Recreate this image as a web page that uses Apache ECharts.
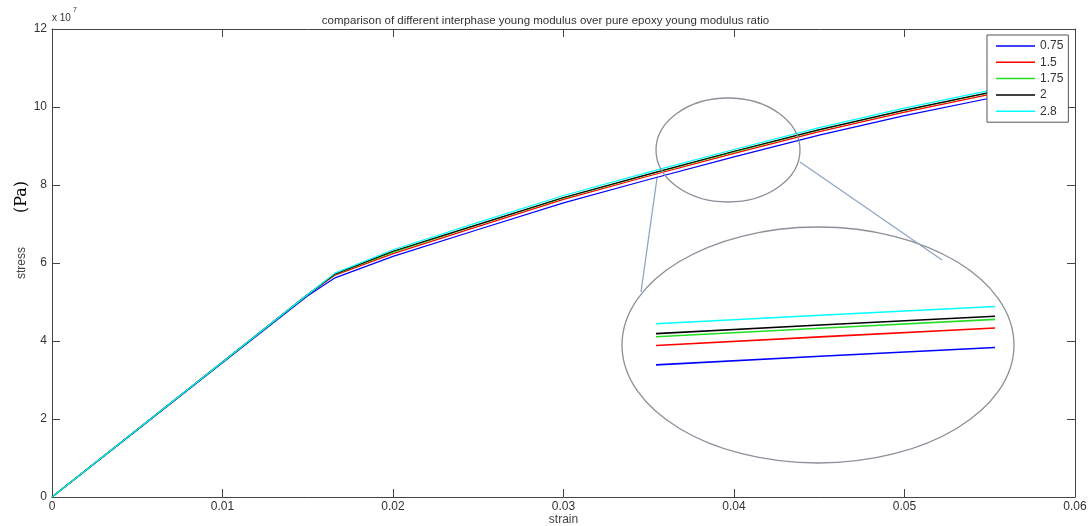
<!DOCTYPE html>
<html>
<head>
<meta charset="utf-8">
<script src="https://cdn.jsdelivr.net/npm/echarts@6/dist/echarts.min.js"></script>
<style>
  html, body { margin: 0; padding: 0; background: #fff; }
  #chart { width: 1091px; height: 526px; }
</style>
</head>
<body>
<div id="chart"></div>
<script>
// ---- data (stress in units of 1e7 Pa) ----
const strain = [0, 0.005, 0.01, 0.015, 0.0166, 0.02, 0.025, 0.03, 0.035, 0.04, 0.045, 0.05, 0.0555];
const ratio075 = [0, 1.72, 3.44, 5.16, 5.62, 6.17, 6.86, 7.54, 8.14, 8.72, 9.28, 9.78, 10.27];
const ratio150 = [0, 1.73, 3.46, 5.19, 5.69, 6.24, 6.94, 7.63, 8.23, 8.81, 9.37, 9.87, 10.37];
const ratio175 = [0, 1.73, 3.46, 5.19, 5.71, 6.28, 6.98, 7.67, 8.27, 8.85, 9.41, 9.91, 10.41];
const ratio200 = [0, 1.73, 3.46, 5.19, 5.72, 6.30, 6.99, 7.68, 8.28, 8.865, 9.42, 9.92, 10.42];
const ratio280 = [0, 1.73, 3.46, 5.19, 5.74, 6.34, 7.04, 7.73, 8.33, 8.91, 9.47, 9.97, 10.47];
const seriesNames = ['0.75', '1.5', '1.75', '2', '2.8'];
const xTickLabels = ['0', '0.01', '0.02', '0.03', '0.04', '0.05', '0.06'];
const yTickLabels = ['0', '2', '4', '6', '8', '10', '12'];
const titleText = 'comparison of different interphase young modulus over pure epoxy young modulus ratio';
const xName = 'strain';
const yName = 'stress';
const unitText = '(Pa)';
const expBase = 'x 10';
const expPow = '7';
// zoomed inset window (around strain 0.04)
const insetX = [0.03965, 0.04035];
const insetY = [8.424, 9.072];

const seriesValues = [ratio075, ratio150, ratio175, ratio200, ratio280];
const colors = ['#0000ff', '#ff0000', '#22dd22', '#000000', '#00ffff'];
const font = 'Liberation Sans, Arial, sans-serif';

const chart = echarts.init(document.getElementById('chart'), null, { renderer: 'canvas' });

const mainSeries = seriesValues.map((vals, k) => ({
  name: seriesNames[k], type: 'line', xAxisIndex: 0, yAxisIndex: 0,
  data: strain.map((x, i) => [x, vals[i]]),
  showSymbol: false, symbol: 'none',
  lineStyle: { color: colors[k], width: 1.2 }, itemStyle: { color: colors[k] },
  z: 2 + k
}));
const insetSeries = seriesValues.map((vals, k) => ({
  name: seriesNames[k], type: 'line', xAxisIndex: 2, yAxisIndex: 2,
  data: strain.map((x, i) => [x, vals[i]]),
  showSymbol: false, symbol: 'none', clip: true,
  lineStyle: { color: colors[k], width: 1.6 }, itemStyle: { color: colors[k] },
  z: 2 + k
}));

const axisLineStyle = { color: '#444', width: 1 };

const option = {
  animation: false,
  backgroundColor: '#fff',
  title: {
    text: titleText, left: 'center', top: 10,
    textStyle: { fontFamily: font, fontSize: 11.5, fontWeight: 'normal', color: '#333' }
  },
  legend: {
    data: seriesNames, orient: 'vertical', left: 987, top: 35,
    padding: [4, 5, 4, 9], itemGap: 2.3, itemWidth: 39, itemHeight: 1.5, icon: 'rect',
    backgroundColor: '#fff', borderColor: '#555', borderWidth: 1,
    textStyle: { fontFamily: font, fontSize: 12, color: '#333', lineHeight: 14 },
    selectedMode: false, z: 20
  },
  grid: [
    { left: 52, right: 16, top: 29, bottom: 29, containLabel: false, outerBoundsMode: 'none' },
    { left: 657, top: 280, width: 336, height: 140, containLabel: false, outerBoundsMode: 'none' }
  ],
  xAxis: [
    {
      type: 'value', gridIndex: 0, min: 0, max: 0.06, interval: 0.01, position: 'bottom',
      name: xName, nameLocation: 'middle', nameGap: 17, nameMoveOverlap: false,
      nameTextStyle: { fontFamily: font, fontSize: 12, color: '#444' },
      axisLine: { show: true, onZero: false, lineStyle: axisLineStyle },
      axisTick: { show: true, inside: true, length: 8, lineStyle: axisLineStyle },
      axisLabel: { margin: 4, fontFamily: font, fontSize: 12, color: '#333',
        formatter: v => xTickLabels[Math.round(v / 0.01)] },
      splitLine: { show: false }
    },
    {
      type: 'value', gridIndex: 0, min: 0, max: 0.06, interval: 0.01, position: 'top',
      axisLine: { show: true, onZero: false, lineStyle: axisLineStyle },
      axisTick: { show: true, inside: true, length: 8, lineStyle: axisLineStyle },
      axisLabel: { show: false }, splitLine: { show: false }
    },
    {
      type: 'value', gridIndex: 1, min: insetX[0], max: insetX[1], show: false,
      splitLine: { show: false }
    }
  ],
  yAxis: [
    {
      type: 'value', gridIndex: 0, min: 0, max: 12, interval: 2, position: 'left',
      name: yName, nameLocation: 'middle', nameGap: 24, nameMoveOverlap: false,
      nameTextStyle: { fontFamily: font, fontSize: 12, color: '#444' },
      axisLine: { show: true, onZero: false, lineStyle: axisLineStyle },
      axisTick: { show: true, inside: true, length: 8, lineStyle: axisLineStyle },
      axisLabel: { margin: 5, fontFamily: font, fontSize: 12, color: '#333',
        formatter: v => yTickLabels[Math.round(v / 2)] },
      splitLine: { show: false }
    },
    {
      type: 'value', gridIndex: 0, min: 0, max: 12, interval: 2, position: 'right',
      axisLine: { show: true, onZero: false, lineStyle: axisLineStyle },
      axisTick: { show: true, inside: true, length: 8, lineStyle: axisLineStyle },
      axisLabel: { show: false }, splitLine: { show: false }
    },
    {
      type: 'value', gridIndex: 1, min: insetY[0], max: insetY[1], show: false,
      splitLine: { show: false }
    }
  ],
  series: mainSeries.concat(insetSeries),
  graphic: [
    { type: 'text', left: 52, top: 13, z: 50,
      style: { text: expBase, fontFamily: font, fontSize: 10, fill: '#333' } },
    { type: 'text', left: 73, top: 7, z: 50,
      style: { text: expPow, fontFamily: font, fontSize: 7, fill: '#333' } },
    { type: 'text', x: 22, y: 197, rotation: Math.PI / 2, z: 50,
      style: { text: unitText, fontFamily: 'DejaVu Serif, serif', fontSize: 16, fill: '#000',
        align: 'center', verticalAlign: 'middle' } },
    { type: 'ellipse', z: 60, silent: true,
      shape: { cx: 728, cy: 150, rx: 72, ry: 52 },
      style: { fill: null, stroke: '#8a8f98', lineWidth: 1.3 } },
    { type: 'ellipse', z: 60, silent: true,
      shape: { cx: 818, cy: 345, rx: 196, ry: 118 },
      style: { fill: null, stroke: '#8a8f98', lineWidth: 1.3 } },
    { type: 'line', z: 60, silent: true,
      shape: { x1: 657, y1: 178, x2: 641, y2: 292 },
      style: { stroke: '#8fa6c4', lineWidth: 1.3 } },
    { type: 'line', z: 60, silent: true,
      shape: { x1: 800, y1: 162, x2: 942, y2: 260 },
      style: { stroke: '#8fa6c4', lineWidth: 1.3 } }
  ]
};
chart.setOption(option);
</script>
</body>
</html>
